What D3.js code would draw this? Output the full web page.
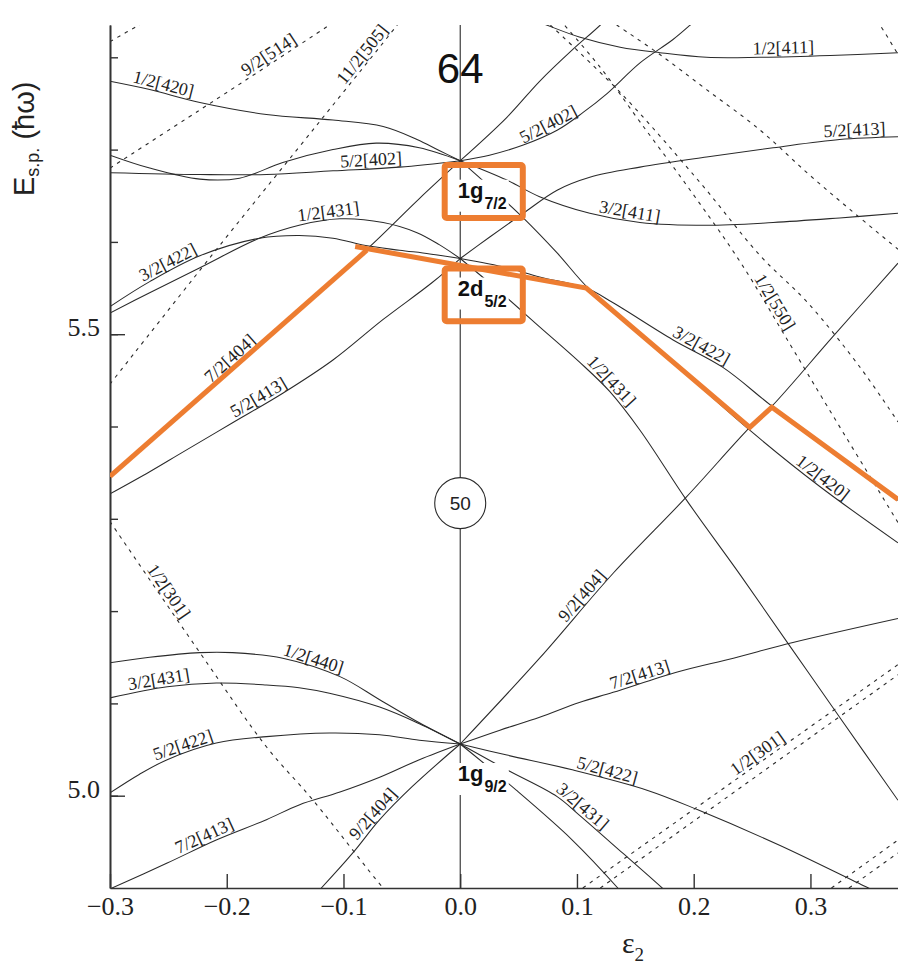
<!DOCTYPE html>
<html><head><meta charset="utf-8">
<script src="https://cdn.jsdelivr.net/npm/d3@7"></script>
<style>
html,body{margin:0;padding:0;background:#fff;}
svg{display:block;}
</style></head>
<body>
<svg id="chart" width="898" height="965"></svg>
<script>
// ---- axis ticks ----
const xTicks = [-0.3, -0.2, -0.1, 0.0, 0.1, 0.2, 0.3];
const yTicks = [5.0, 5.1, 5.2, 5.3, 5.4, 5.5, 5.6, 5.7, 5.8];
const yLabelTicks = [5.0, 5.5];

// ---- spherical states at eps = 0 ----
const shellNames = ["1g", "2d", "1g"];
const shellJ = ["7/2", "5/2", "9/2"];
const shellE = [5.688, 5.582, 5.056];
const magicNumber = "50";
const magicE = 5.317;
const neutronNumber = "64";

// ---- oblate side (eps < 0), positive parity N=4 levels: [eps, E] ----
const oblateLevels = [
  {name: "1/2[420]", lab: -0.256, pts: [[-0.3,5.774],[-0.266,5.765],[-0.223,5.751],[-0.166,5.738],[-0.109,5.732],[-0.066,5.725],[-0.037,5.711],[-0.018,5.699],[0,5.688]]},
  {name: "",         lab: null,   pts: [[-0.3,5.694],[-0.266,5.680],[-0.223,5.668],[-0.189,5.669],[-0.152,5.686],[-0.109,5.700],[-0.072,5.707],[-0.035,5.702],[0,5.688]]},
  {name: "5/2[402]", lab: -0.076, pts: [[-0.3,5.675],[-0.223,5.673],[-0.166,5.673],[-0.109,5.677],[-0.052,5.681],[0,5.688]]},
  {name: "3/2[422]", lab: -0.247, pts: [[-0.3,5.530],[-0.266,5.557],[-0.223,5.585],[-0.172,5.604],[-0.138,5.607],[-0.109,5.604],[-0.081,5.596],[-0.052,5.591],[-0.026,5.587],[0,5.582]]},
  {name: "1/2[431]", lab: -0.112, pts: [[-0.3,5.523],[-0.266,5.545],[-0.223,5.572],[-0.172,5.604],[-0.138,5.618],[-0.103,5.625],[-0.066,5.621],[-0.037,5.610],[-0.018,5.597],[0,5.582]]},
  {name: "7/2[404]", lab: -0.192, pts: [[-0.3,5.346],[-0.223,5.431],[-0.155,5.509],[-0.080,5.592],[-0.035,5.647],[0,5.688]]},
  {name: "5/2[413]", lab: -0.169, pts: [[-0.3,5.327],[-0.266,5.351],[-0.238,5.372],[-0.195,5.404],[-0.152,5.436],[-0.109,5.472],[-0.066,5.516],[-0.024,5.556],[0,5.582]]},
  {name: "1/2[440]", lab: -0.128, pts: [[-0.3,5.144],[-0.266,5.150],[-0.223,5.155],[-0.195,5.155],[-0.152,5.149],[-0.103,5.129],[-0.069,5.104],[-0.035,5.079],[0,5.056]]},
  {name: "3/2[431]", lab: -0.257, pts: [[-0.3,5.106],[-0.251,5.118],[-0.209,5.122],[-0.166,5.120],[-0.138,5.117],[-0.112,5.111],[-0.069,5.096],[-0.035,5.078],[0,5.056]]},
  {name: "5/2[422]", lab: -0.235, pts: [[-0.3,5.003],[-0.275,5.023],[-0.251,5.039],[-0.209,5.057],[-0.166,5.064],[-0.112,5.068],[-0.069,5.066],[-0.035,5.060],[0,5.056]]},
  {name: "7/2[413]", lab: -0.216, pts: [[-0.3,4.899],[-0.251,4.927],[-0.209,4.952],[-0.166,4.974],[-0.138,4.990],[-0.103,5.004],[-0.069,5.020],[-0.035,5.039],[0,5.056]]},
  {name: "9/2[404]", lab: -0.069, pts: [[-0.138,4.875],[-0.119,4.900],[-0.092,4.938],[-0.069,4.974],[-0.041,5.010],[0,5.056]]}
];

// ---- prolate side (eps > 0), positive parity N=4 levels ----
const prolateLevels = [
  {name: "",         lab: null,  pts: [[0,5.688],[0.040,5.735],[0.068,5.774],[0.096,5.808],[0.120,5.835],[0.141,5.862]]},
  {name: "5/2[402]", lab: 0.079, pts: [[0,5.688],[0.025,5.694],[0.054,5.705],[0.083,5.721],[0.105,5.740],[0.126,5.761],[0.154,5.794],[0.182,5.819],[0.197,5.835],[0.214,5.855]]},
  {name: "3/2[411]", lab: 0.144, pts: [[0,5.688],[0.040,5.667],[0.068,5.649],[0.111,5.631],[0.154,5.621],[0.211,5.618],[0.268,5.621],[0.325,5.626],[0.375,5.631]]},
  {name: "1/2[420]", lab: 0.306, pts: [[0,5.688],[0.025,5.660],[0.054,5.626],[0.083,5.588],[0.111,5.548],[0.180,5.472],[0.248,5.396],[0.308,5.335],[0.375,5.274]]},
  {name: "3/2[422]", lab: 0.203, pts: [[0,5.582],[0.040,5.572],[0.068,5.562],[0.108,5.550],[0.131,5.534],[0.182,5.494],[0.225,5.464],[0.267,5.422],[0.317,5.375],[0.375,5.320]]},
  {name: "1/2[431]", lab: 0.124, pts: [[0,5.582],[0.034,5.546],[0.068,5.508],[0.102,5.470],[0.128,5.438],[0.154,5.396],[0.194,5.320],[0.240,5.239],[0.283,5.161],[0.325,5.085],[0.375,4.995]]},
  {name: "5/2[413]", lab: 0.338, pts: [[0,5.582],[0.025,5.605],[0.054,5.631],[0.083,5.656],[0.111,5.670],[0.154,5.681],[0.211,5.692],[0.268,5.702],[0.325,5.711],[0.375,5.714]]},
  {name: "1/2[411]", lab: 0.277, pts: [[0.042,5.851],[0.074,5.835],[0.102,5.822],[0.137,5.811],[0.171,5.805],[0.211,5.800],[0.257,5.800],[0.317,5.802],[0.375,5.805]]},
  {name: "9/2[404]", lab: 0.110, pts: [[0,5.056],[0.068,5.149],[0.131,5.241],[0.194,5.324],[0.248,5.399],[0.267,5.422],[0.319,5.497],[0.375,5.577]]},
  {name: "7/2[413]", lab: 0.156, pts: [[0,5.056],[0.034,5.071],[0.068,5.085],[0.102,5.101],[0.131,5.112],[0.186,5.134],[0.234,5.149],[0.285,5.166],[0.375,5.192]]},
  {name: "5/2[422]", lab: 0.124, pts: [[0,5.056],[0.040,5.044],[0.096,5.028],[0.160,5.006],[0.203,4.985],[0.274,4.946],[0.348,4.901],[0.372,4.887]]},
  {name: "3/2[431]", lab: 0.100, pts: [[0,5.056],[0.040,5.028],[0.083,4.999],[0.102,4.979],[0.139,4.938],[0.173,4.900],[0.188,4.882]]},
  {name: "",         lab: null,  pts: [[0,5.056],[0.048,5.006],[0.096,4.952],[0.135,4.900],[0.145,4.885]]}
];

// ---- negative-parity intruder levels (dashed) ----
const intruderLevels = [
  {name: "",          lab: null,   pts: [[-0.3,5.817],[-0.275,5.835],[-0.257,5.847]]},
  {name: "9/2[514]",  lab: -0.160, pts: [[-0.3,5.680],[-0.223,5.743],[-0.166,5.790],[-0.112,5.835],[-0.086,5.857]]},
  {name: "11/2[505]", lab: -0.078, pts: [[-0.3,5.446],[-0.215,5.582],[-0.120,5.731],[-0.054,5.835],[-0.039,5.860]]},
  {name: "1/2[301]",  lab: -0.256, pts: [[-0.3,5.297],[-0.217,5.144],[-0.166,5.053],[-0.126,4.995],[-0.066,4.900],[-0.056,4.887]]},
  {name: "1/2[550]",  lab: 0.263,  pts: [[0.085,5.841],[0.120,5.789],[0.154,5.730],[0.197,5.656],[0.240,5.578],[0.283,5.488],[0.311,5.429],[0.375,5.296]]},
  {name: "",          lab: null,   pts: [[0.072,5.841],[0.137,5.762],[0.205,5.665],[0.257,5.585],[0.297,5.535],[0.342,5.465],[0.375,5.405]]},
  {name: "",          lab: null,   pts: [[0.134,5.835],[0.171,5.803],[0.211,5.765],[0.257,5.721],[0.297,5.675],[0.334,5.635],[0.375,5.592]]},
  {name: "",          lab: null,   pts: [[0.352,5.847],[0.3595,5.835],[0.375,5.803]]},
  {name: "1/2[301]",  lab: 0.259,  pts: [[0.105,4.900],[0.375,5.142]]},
  {name: "",          lab: null,   pts: [[0.120,4.900],[0.375,5.131]]},
  {name: "",          lab: null,   pts: [[0.318,4.900],[0.375,4.952]]},
  {name: "",          lab: null,   pts: [[0.333,4.900],[0.375,4.938]]}
];

// ---- Fermi-level path for N = 64 ----
const fermiRise = [[-0.300,5.346],[-0.080,5.591]];
const fermiPath = [[-0.090,5.595],[0.108,5.550],[0.248,5.399],[0.267,5.421],[0.375,5.321]];
// highlighted spherical states (eps range, E range)
const highlightBoxes = [
  {eps: [-0.0133, 0.0536], E: [5.626, 5.6834]},
  {eps: [-0.0133, 0.0536], E: [5.514, 5.5711]}
];

// ---------------------------------------------------------------
const svg = d3.select("#chart");
const W = 898, H = 965;
const m = {left: 110, top: 25, right: 0, bottom: 77};
const iw = W - m.left - m.right, ih = H - m.top - m.bottom;

const x = d3.scaleLinear().domain([-0.3, 0.375]).range([m.left, m.left + iw]);
const y = d3.scaleLinear().domain([4.9, 5.835]).range([m.top + ih, m.top]);

svg.append("rect").attr("width", W).attr("height", H).attr("fill", "#fff");

svg.append("defs").append("clipPath").attr("id", "plot")
  .append("rect").attr("x", m.left).attr("y", m.top).attr("width", iw).attr("height", ih);

const ink = "#2a2a2a";
const lineGen = d3.line().x(d => x(d[0])).y(d => y(d[1])).curve(d3.curveCatmullRom.alpha(0.5));

const plot = svg.append("g").attr("clip-path", "url(#plot)");

function drawLevels(levels, dashed) {
  plot.append("g").selectAll("path").data(levels).join("path")
    .attr("d", d => lineGen(d.pts))
    .attr("fill", "none")
    .attr("stroke", ink)
    .attr("stroke-width", dashed ? 1.1 : 1.05)
    .attr("stroke-dasharray", dashed ? "3.5,5" : null);
}
drawLevels(intruderLevels, true);
drawLevels(oblateLevels, false);
drawLevels(prolateLevels, false);

// vertical line at eps = 0
plot.append("line")
  .attr("x1", x(0)).attr("x2", x(0)).attr("y1", m.top).attr("y2", m.top + ih)
  .attr("stroke", ink).attr("stroke-width", 1.1);

// label placed along a level, rotated with the local slope
function interp(pts, e) {
  if (e <= pts[0][0]) return pts[0][1];
  for (let i = 0; i < pts.length - 1; i++) {
    const a = pts[i], b = pts[i + 1];
    if (e >= a[0] && e <= b[0]) return a[1] + (b[1] - a[1]) * (e - a[0]) / (b[0] - a[0]);
  }
  return pts[pts.length - 1][1];
}
const labelG = svg.append("g")
  .attr("font-family", "'Liberation Serif','Times New Roman',serif")
  .attr("font-size", 18).attr("fill", "#222");
[...oblateLevels, ...prolateLevels, ...intruderLevels].filter(d => d.lab !== null && d.name).forEach(d => {
  const e = d.lab, h = 0.012;
  const p0 = [x(e - h), y(interp(d.pts, e - h))];
  const p1 = [x(e + h), y(interp(d.pts, e + h))];
  const px = x(e), py = y(interp(d.pts, e));
  const ang = Math.atan2(p1[1] - p0[1], p1[0] - p0[0]) * 180 / Math.PI;
  labelG.append("text")
    .attr("transform", `translate(${px},${py}) rotate(${ang})`)
    .attr("dy", -3).attr("text-anchor", "middle")
    .text(d.name);
});

// axes
const axisG = svg.append("g").attr("color", "#333");
const xAxis = d3.axisBottom(x).tickValues(xTicks).tickSize(-14).tickSizeOuter(0)
  .tickPadding(9).tickFormat(d3.format(".1f"));
const gx = axisG.append("g").attr("transform", `translate(0,${m.top + ih})`).call(xAxis);
const yMinor = d3.axisLeft(y).tickValues(yTicks).tickSize(-8).tickSizeOuter(0).tickFormat("");
const gyMinor = axisG.append("g").attr("transform", `translate(${m.left},0)`).call(yMinor);
const yMajor = d3.axisLeft(y).tickValues(yLabelTicks).tickSize(-15).tickSizeOuter(0)
  .tickPadding(10).tickFormat(d3.format(".1f"));
const gy = axisG.append("g").attr("transform", `translate(${m.left},0)`).call(yMajor);
[gx, gyMinor, gy].forEach(g => {
  g.select(".domain").attr("stroke-width", 1.6);
  g.selectAll(".tick line").attr("stroke-width", 1.4);
  g.selectAll("text").attr("font-family", "'Liberation Serif','Times New Roman',serif")
    .attr("font-size", 26).attr("fill", "#222");
});
gy.selectAll("text").attr("dy", "0.05em");

// axis titles
const yt = svg.append("text")
  .attr("transform", "translate(34,196) rotate(-90)")
  .attr("font-family", "'Liberation Sans',Arial,sans-serif")
  .attr("font-size", 29).attr("fill", "#222");
yt.append("tspan").text("E");
yt.append("tspan").attr("font-size", 18).attr("dy", 5).text("s.p.");
yt.append("tspan").attr("dy", -5).text(" (ħω)");

const xt = svg.append("text")
  .attr("x", 622).attr("y", 953)
  .attr("font-family", "'Liberation Serif','Times New Roman',serif")
  .attr("font-size", 30).attr("fill", "#222");
xt.append("tspan").text("ε");
xt.append("tspan").attr("font-size", 19).attr("dy", 8).text("2");

// magic number circle
svg.append("circle").attr("cx", x(0)).attr("cy", y(magicE)).attr("r", 25.5)
  .attr("fill", "#fff").attr("stroke", ink).attr("stroke-width", 1.1);
svg.append("text").attr("x", x(0)).attr("y", y(magicE)).attr("dy", "0.36em")
  .attr("text-anchor", "middle")
  .attr("font-family", "'Liberation Sans',Arial,sans-serif").attr("font-size", 19)
  .attr("fill", "#222").text(magicNumber);

// spherical state labels with white backing
shellNames.forEach((nm, i) => {
  const g = svg.append("g");
  const t = g.append("text")
    .attr("x", x(0) - 2.5).attr("y", y(shellE[i]) + 37)
    .attr("font-family", "'Liberation Sans',Arial,sans-serif")
    .attr("font-weight", "bold").attr("font-size", 22).attr("fill", "#111");
  t.append("tspan").text(nm);
  t.append("tspan").attr("font-size", 16).attr("dy", 11).attr("dx", 1).text(shellJ[i]);
  const bb = t.node().getBBox();
  g.insert("rect", "text").attr("x", bb.x - 2).attr("y", bb.y + 2)
    .attr("width", bb.width + 4).attr("height", bb.height - 2).attr("fill", "#fff");
});

// Fermi-level path and highlight boxes
const orange = "#ED7D31";
const fermiLine = d3.line().x(d => x(d[0])).y(d => y(d[1]));
const og = svg.append("g").attr("clip-path", "url(#plot)");
og.append("path").attr("d", fermiLine(fermiRise)).attr("fill", "none")
  .attr("stroke", orange).attr("stroke-width", 5);
og.append("path").attr("d", fermiLine(fermiPath)).attr("fill", "none")
  .attr("stroke", orange).attr("stroke-width", 5).attr("stroke-linejoin", "miter");
svg.append("g").selectAll("rect").data(highlightBoxes).join("rect")
  .attr("x", d => x(d.eps[0])).attr("width", d => x(d.eps[1]) - x(d.eps[0]))
  .attr("y", d => y(d.E[1])).attr("height", d => y(d.E[0]) - y(d.E[1]))
  .attr("rx", 2).attr("fill", "none").attr("stroke", orange).attr("stroke-width", 6);

// neutron number
svg.append("text").attr("x", x(0)).attr("y", 83).attr("text-anchor", "middle")
  .attr("font-family", "'Liberation Sans',Arial,sans-serif").attr("font-size", 42)
  .attr("fill", "#111").text(neutronNumber);
</script>
</body></html>
